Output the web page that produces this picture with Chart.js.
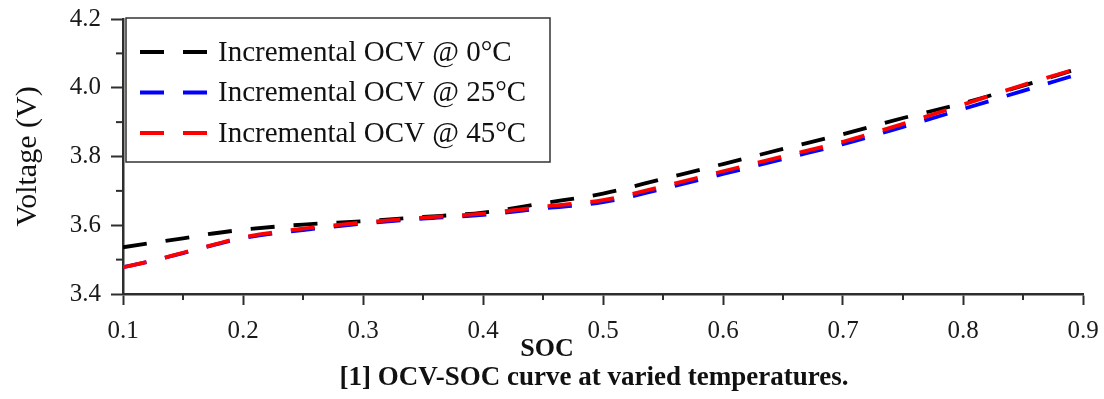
<!DOCTYPE html>
<html>
<head>
<meta charset="utf-8">
<title>OCV-SOC curve</title>
<script src="https://cdn.jsdelivr.net/npm/chart.js@4.4.1/dist/chart.umd.min.js"></script>
<style>
  html, body { margin: 0; padding: 0; background: #fff; }
  #wrap { width: 1104px; height: 399px; position: relative; }
</style>
</head>
<body>
<div id="wrap"><canvas id="ocvChart"></canvas></div>
<script>
// values
const soc = [0.1, 0.125, 0.15, 0.175, 0.2, 0.25, 0.3, 0.35, 0.4, 0.45, 0.5, 0.55, 0.6, 0.65, 0.7, 0.75, 0.8, 0.85, 0.89];
const ocv0C  = [3.536, 3.549, 3.562, 3.576, 3.587, 3.602, 3.612, 3.624, 3.637, 3.664, 3.692, 3.735, 3.778, 3.822, 3.865, 3.912, 3.955, 4.006, 4.049];
const ocv25C = [3.478, 3.497, 3.519, 3.542, 3.563, 3.586, 3.605, 3.619, 3.630, 3.649, 3.667, 3.706, 3.749, 3.793, 3.836, 3.886, 3.938, 3.991, 4.033];
const ocv45C = [3.478, 3.497, 3.520, 3.543, 3.565, 3.590, 3.608, 3.622, 3.634, 3.654, 3.673, 3.713, 3.757, 3.800, 3.843, 3.895, 3.951, 4.008, 4.050];
const seriesLabels = ["Incremental OCV @ 0°C", "Incremental OCV @ 25°C", "Incremental OCV @ 45°C"];
const xTitle = "SOC";
const yTitle = "Voltage (V)";
const caption = "[1] OCV-SOC curve at varied temperatures.";

const SERIF = "'Liberation Serif', 'Times New Roman', serif";
const AXIS = "#2e2e2e";
const DASH = [24, 19];

function pts(ys) {
  return soc.map((x, i) => ({ x: x, y: ys[i] }));
}

// short minor ticks (the library draws only the labelled ones)
const minorTicks = {
  id: "minorTicks",
  afterDraw(chart) {
    const ctx = chart.ctx;
    const xs = chart.scales.x, ys = chart.scales.y;
    ctx.save();
    ctx.strokeStyle = AXIS;
    ctx.lineWidth = 2;
    xs.ticks.forEach(t => {
      if (Math.round(t.value * 100) % 10 !== 0) {
        const px = xs.getPixelForValue(t.value);
        ctx.beginPath();
        ctx.moveTo(px, xs.top);
        ctx.lineTo(px, xs.top + 6);
        ctx.stroke();
      }
    });
    ys.ticks.forEach(t => {
      if (Math.round(t.value * 10) % 2 !== 0) {
        const py = ys.getPixelForValue(t.value);
        ctx.beginPath();
        ctx.moveTo(ys.right, py);
        ctx.lineTo(ys.right - 7, py);
        ctx.stroke();
      }
    });
    ctx.restore();
  }
};

// boxed legend in the top-left of the plot
const boxLegend = {
  id: "boxLegend",
  afterDraw(chart) {
    const ctx = chart.ctx;
    const area = chart.chartArea;
    const left = area.left + 3, top = area.top - 1, w = 424, h = 144;
    ctx.save();
    ctx.fillStyle = "#fff";
    ctx.fillRect(left, top, w, h);
    ctx.strokeStyle = "#333";
    ctx.lineWidth = 1.5;
    ctx.strokeRect(left, top, w, h);
    chart.data.datasets.forEach((ds, i) => {
      const y = top + 34 + i * 40.5;
      ctx.beginPath();
      ctx.setLineDash(DASH);
      ctx.strokeStyle = ds.borderColor;
      ctx.lineWidth = ds.borderWidth;
      ctx.moveTo(left + 14, y);
      ctx.lineTo(left + 81, y);
      ctx.stroke();
      ctx.setLineDash([]);
      ctx.fillStyle = "#111";
      ctx.font = "29px " + SERIF;
      ctx.textBaseline = "middle";
      ctx.textAlign = "left";
      ctx.fillText(ds.label, left + 92, y + 1);
    });
    ctx.restore();
  }
};

// x axis title and figure caption under the plot
const bottomText = {
  id: "bottomText",
  afterDraw(chart) {
    const ctx = chart.ctx;
    ctx.save();
    ctx.fillStyle = "#111";
    ctx.textAlign = "center";
    ctx.textBaseline = "middle";
    ctx.font = "bold 26px " + SERIF;
    ctx.fillText(xTitle, 547, 349);
    ctx.font = "bold 27px " + SERIF;
    ctx.fillText(caption, 594, 378);
    ctx.restore();
  }
};

const ctx = document.getElementById("ocvChart").getContext("2d");

new Chart(ctx, {
  type: "line",
  data: {
    datasets: [
      { label: seriesLabels[0], data: pts(ocv0C),  borderColor: "#000000", order: 1 },
      { label: seriesLabels[1], data: pts(ocv25C), borderColor: "#0000ff", order: 2 },
      { label: seriesLabels[2], data: pts(ocv45C), borderColor: "#ff0000", order: 0 }
    ].map(ds => Object.assign(ds, {
      borderWidth: 3.8,
      borderDash: DASH,
      pointRadius: 0,
      fill: false,
      cubicInterpolationMode: "monotone"
    }))
  },
  options: {
    responsive: true,
    maintainAspectRatio: false,
    animation: false,
    layout: { padding: { top: 19, right: 21, left: 0, bottom: 0 } },
    plugins: {
      legend: { display: false },
      tooltip: { enabled: false }
    },
    scales: {
      x: {
        type: "linear",
        min: 0.1,
        max: 0.9,
        afterFit(scale) {
          scale.height = 105;
          scale.paddingLeft = 0;
          scale.paddingRight = 0;
        },
        border: { display: true, color: AXIS, width: 2.5 },
        grid: {
          drawOnChartArea: false,
          tickLength: 11,
          tickWidth: 2,
          tickColor: c => (c.tick && Math.round(c.tick.value * 100) % 10 === 0) ? AXIS : "rgba(0,0,0,0)"
        },
        ticks: {
          stepSize: 0.05,
          autoSkip: false,
          maxRotation: 0,
          padding: 11,
          color: "#1a1a1a",
          font: { family: SERIF, size: 25 },
          callback: v => Math.round(v * 100) % 10 === 0 ? v.toFixed(1) : ""
        }
      },
      y: {
        min: 3.4,
        max: 4.2,
        afterFit(scale) {
          scale.width = 123;
          scale.paddingTop = 0;
          scale.paddingBottom = 0;
        },
        border: { display: true, color: AXIS, width: 2.5 },
        grid: {
          drawOnChartArea: false,
          tickLength: 12,
          tickWidth: 2,
          tickColor: c => (c.tick && Math.round(c.tick.value * 10) % 2 === 0) ? AXIS : "rgba(0,0,0,0)"
        },
        ticks: {
          stepSize: 0.1,
          autoSkip: false,
          padding: 10,
          color: "#1a1a1a",
          font: { family: SERIF, size: 25 },
          callback: v => Math.round(v * 10) % 2 === 0 ? v.toFixed(1) : ""
        },
        title: {
          display: true,
          text: yTitle,
          color: "#111",
          font: { family: SERIF, size: 30 },
          padding: { top: 10, bottom: 0 }
        }
      }
    }
  },
  plugins: [minorTicks, boxLegend, bottomText]
});
</script>
</body>
</html>
